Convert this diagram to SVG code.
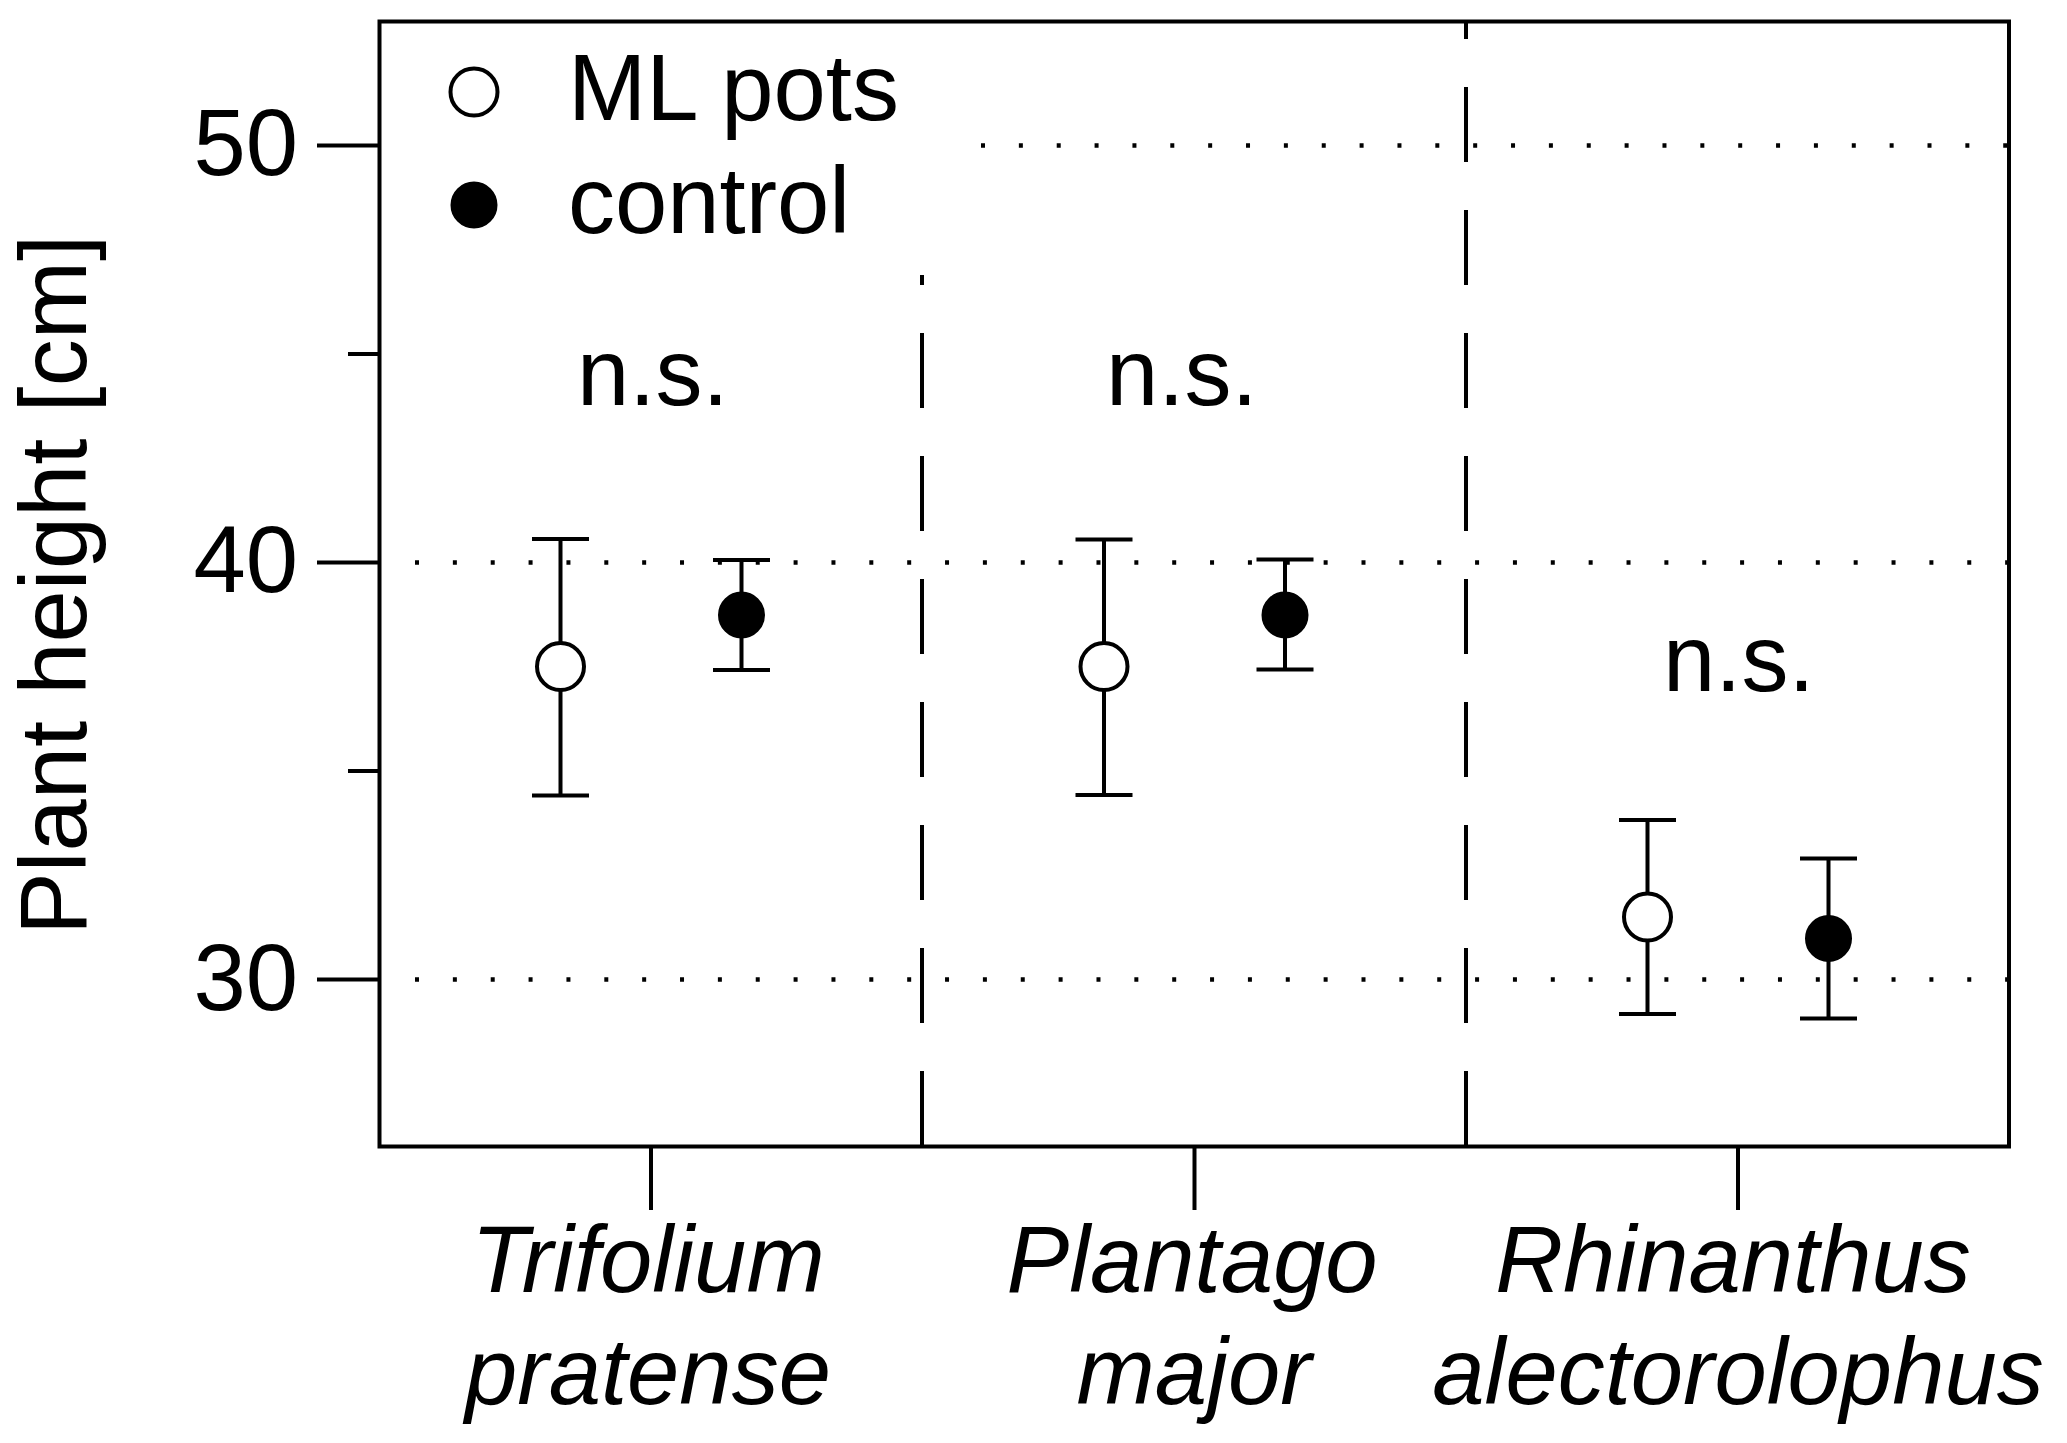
<svg xmlns="http://www.w3.org/2000/svg" width="2067" height="1443" viewBox="0 0 2067 1443">
<style>
text{font-family:"Liberation Sans",Arial,Helvetica,sans-serif;font-size:94px;fill:#000}
.it{font-style:italic}
.ln{stroke:#000;stroke-width:4;fill:none}
.dot{stroke:#000;stroke-width:4.5;stroke-dasharray:4 33.86;fill:none}
.dash{stroke:#000;stroke-width:4;stroke-dasharray:75 48;fill:none}
.open{fill:#fff;stroke:#000;stroke-width:4}
.fill{fill:#000;stroke:#000;stroke-width:2}
</style>
<rect width="2067" height="1443" fill="#fff"/>
<g id="grid">
<line class="dot" x1="981" y1="145.5" x2="2009" y2="145.5"/>
<line class="dot" x1="415" y1="562.5" x2="2009" y2="562.5"/>
<line class="dot" x1="415" y1="979.5" x2="2009" y2="979.5"/>
<line class="dash" x1="922" y1="1146" x2="922" y2="275"/>
<line class="dash" x1="1466" y1="1146" x2="1466" y2="21"/>
</g>
<g id="axes">
<rect class="ln" x="379.5" y="21.5" width="1629.5" height="1125"/>
<line class="ln" x1="317" y1="145.5" x2="379" y2="145.5"/>
<line class="ln" x1="348" y1="354" x2="379" y2="354"/>
<line class="ln" x1="317" y1="562.5" x2="379" y2="562.5"/>
<line class="ln" x1="348" y1="771" x2="379" y2="771"/>
<line class="ln" x1="317" y1="979.5" x2="379" y2="979.5"/>
<text x="298" y="175" text-anchor="end">50</text>
<text x="298" y="592" text-anchor="end">40</text>
<text x="298" y="1009.5" text-anchor="end">30</text>
<text transform="translate(86,585) rotate(-90)" text-anchor="middle">Plant height [cm]</text>
<line class="ln" x1="651" y1="1146" x2="651" y2="1210"/>
<line class="ln" x1="1194.5" y1="1146" x2="1194.5" y2="1210"/>
<line class="ln" x1="1738" y1="1146" x2="1738" y2="1210"/>
<text class="it" x="648" y="1292" text-anchor="middle">Trifolium</text>
<text class="it" x="648" y="1404" text-anchor="middle">pratense</text>
<text class="it" x="1192" y="1292" text-anchor="middle">Plantago</text>
<text class="it" x="1194" y="1404" text-anchor="middle">major</text>
<text class="it" x="1733" y="1292" text-anchor="middle">Rhinanthus</text>
<text class="it" x="1738" y="1404" text-anchor="middle">alectorolophus</text>
</g>
<g id="legend">
<circle class="open" cx="474" cy="92" r="23.5"/>
<circle class="fill" cx="474" cy="205" r="22.5"/>
<text x="568" y="120">ML pots</text>
<text x="568" y="233">control</text>
</g>
<g id="labels">
<text x="577" y="405">n.s.</text>
<text x="1106" y="405">n.s.</text>
<text x="1663" y="691">n.s.</text>
</g>
<g id="trifolium-ml">
<path class="ln" d="M560.5 539V795.5M532 539H589M532 795.5H589"/>
<circle class="open" cx="560.5" cy="666.5" r="23.5"/>
</g>
<g id="trifolium-control">
<path class="ln" d="M741.5 560V670M713 560H770M713 670H770"/>
<circle class="fill" cx="741.5" cy="615" r="22.5"/>
</g>
<g id="plantago-ml">
<path class="ln" d="M1104 539.5V795M1075.5 539.5H1132.5M1075.5 795H1132.5"/>
<circle class="open" cx="1104" cy="666.5" r="23.5"/>
</g>
<g id="plantago-control">
<path class="ln" d="M1285 559.5V669.5M1256.5 559.5H1313.5M1256.5 669.5H1313.5"/>
<circle class="fill" cx="1285" cy="615" r="22.5"/>
</g>
<g id="rhinanthus-ml">
<path class="ln" d="M1647.5 820V1014M1619 820H1676M1619 1014H1676"/>
<circle class="open" cx="1647.5" cy="917" r="23.5"/>
</g>
<g id="rhinanthus-control">
<path class="ln" d="M1828.5 858.5V1018.5M1800 858.5H1857M1800 1018.5H1857"/>
<circle class="fill" cx="1828.5" cy="938.5" r="22.5"/>
</g>
</svg>
